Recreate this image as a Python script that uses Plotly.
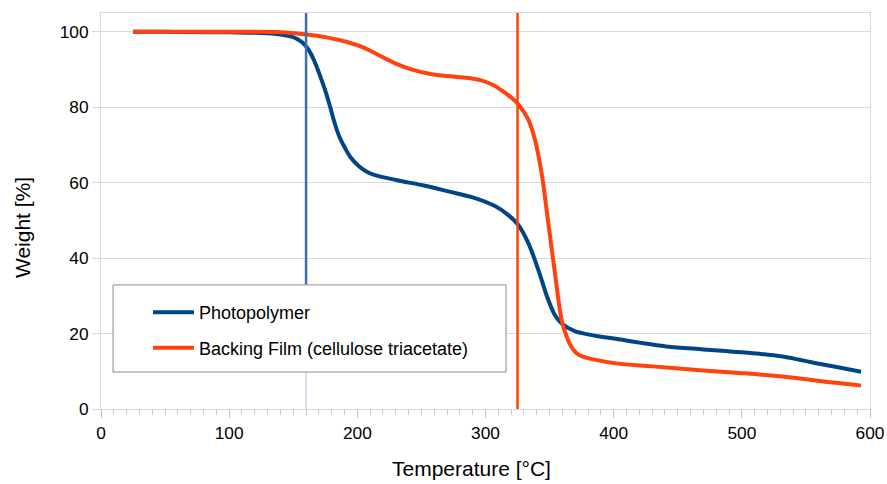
import plotly.graph_objects as go

# Photopolymer TGA curve
photo_x = [25, 50, 100, 130, 140, 148, 153, 158, 162, 166, 170, 174.8, 178.7, 182.6, 186, 190.4, 195, 200.8,
           207, 213.8, 232, 252.8, 271, 291.8, 307.4, 317.8, 325.6, 333.4, 341.2, 349, 354, 359.4,
           370, 380, 389, 400, 420, 441, 470, 493, 515, 532, 545, 558, 575, 593]
photo_y = [100, 100, 99.9, 99.6, 99.3, 98.8, 98.1, 96.9, 95.2, 92.6, 89.2, 84.6, 80.2, 75.5, 72.2, 69.2, 66.6, 64.5,
           63.0, 62.0, 60.6, 59.2, 57.7, 55.9, 53.8, 51.4, 48.8, 44, 36.9, 28.9, 25, 22.7,
           20.6, 19.8, 19.2, 18.7, 17.6, 16.6, 15.8, 15.2, 14.6, 13.9, 13.05, 12.15, 11.05, 9.9]

# Backing film (cellulose triacetate) TGA curve
film_x = [25, 50, 100, 140, 160.5, 175, 192, 205, 218, 230, 243.5, 256, 270, 283, 296, 306, 312.6,
          319, 325.6, 333.4, 338.6, 343.8, 349, 354.2, 359.4, 363, 367, 371, 376, 385, 402, 430,
          467, 500, 532, 550, 571, 593]
film_y = [100, 100, 100, 99.9, 99.3, 98.6, 97.3, 95.8, 93.6, 91.6, 89.9, 88.9, 88.3, 87.9, 87.2, 85.9, 84.5,
          82.9, 80.8, 76.7, 71.4, 62.5, 49.3, 36, 23.6, 19.5, 16.5, 14.8, 13.9, 13.1, 12.1, 11.3,
          10.3, 9.5, 8.6, 7.9, 7.0, 6.2]

# Marker temperatures (vertical lines)
onset_photo = 160
onset_film = 325

x_ticks = [0, 100, 200, 300, 400, 500, 600]
y_ticks = [0, 20, 40, 60, 80, 100]

FONT = "Liberation Sans, Arial, sans-serif"
GRID = "#d9d9d9"

fig = go.Figure()
fig.add_trace(go.Scatter(x=photo_x, y=photo_y, mode="lines", name="Photopolymer",
                         line=dict(color="#004586", width=4, shape="spline", smoothing=1.0),
                         legendgroup="a"))
fig.add_trace(go.Scatter(x=film_x, y=film_y, mode="lines", name="Backing Film (cellulose triacetate)",
                         line=dict(color="#ff420e", width=4, shape="spline", smoothing=1.0),
                         legendgroup="b"))

# vertical marker lines
fig.add_shape(type="line", xref="x", yref="y", x0=onset_photo, x1=onset_photo, y0=0, y1=105,
              line=dict(color="#a9c1e2", width=1), layer="above")
fig.add_shape(type="line", xref="x", yref="y", x0=onset_photo, x1=onset_photo, y0=33, y1=105,
              line=dict(color="#3d6db5", width=2.5), layer="above")
fig.add_shape(type="line", xref="x", yref="y", x0=onset_film, x1=onset_film, y0=0, y1=105,
              line=dict(color="#ff4500", width=2.5), layer="above")
# legend box
fig.add_shape(type="rect", xref="x", yref="y", x0=9.4, x1=316, y0=9.8, y1=32.9,
              line=dict(color="#8c8c8c", width=1), fillcolor="white", layer="above")

fig.update_layout(
    width=887, height=484,
    margin=dict(l=101, r=17, t=13, b=75),
    paper_bgcolor="white", plot_bgcolor="white",
    font=dict(family=FONT, size=17, color="#000000"),
    showlegend=True,
    legend=dict(x=0.0611, y=0.29, xanchor="left", yanchor="top",
                bgcolor="rgba(0,0,0,0)", borderwidth=0, itemwidth=41,
                font=dict(family=FONT, size=18, color="#000000"),
                traceorder="grouped", tracegroupgap=9),
    xaxis=dict(range=[0, 600], tickvals=x_ticks, showgrid=False, zeroline=False, automargin=False,
               showline=True, linecolor=GRID, linewidth=1, mirror=True,
               ticks="outside", ticklen=8, tickcolor="#c0c0c0",
               minor=dict(dtick=10, ticks="outside", ticklen=5, tickcolor="#c8c8c8"),
               tickfont=dict(family=FONT, size=17.3, color="#000000")),
    yaxis=dict(range=[0, 105], tickvals=y_ticks, showgrid=True, gridcolor=GRID, gridwidth=1,
               zeroline=False, showline=True, linecolor=GRID, linewidth=1, mirror=True, automargin=False,
               ticks="outside", ticklen=8, tickcolor=GRID,
               tickfont=dict(family=FONT, size=17.3, color="#000000")),
    annotations=[
        dict(text="Temperature [°C]", xref="paper", yref="paper", x=0.4824, y=-0.149,
             xanchor="center", yanchor="middle", showarrow=False,
             font=dict(family=FONT, size=21, color="#000000")),
        dict(text="Weight [%]", xref="paper", yref="paper", x=-0.1027, y=0.457,
             xanchor="center", yanchor="middle", showarrow=False, textangle=-90,
             font=dict(family=FONT, size=21, color="#000000")),
    ],
)

fig.write_html("out.html")
